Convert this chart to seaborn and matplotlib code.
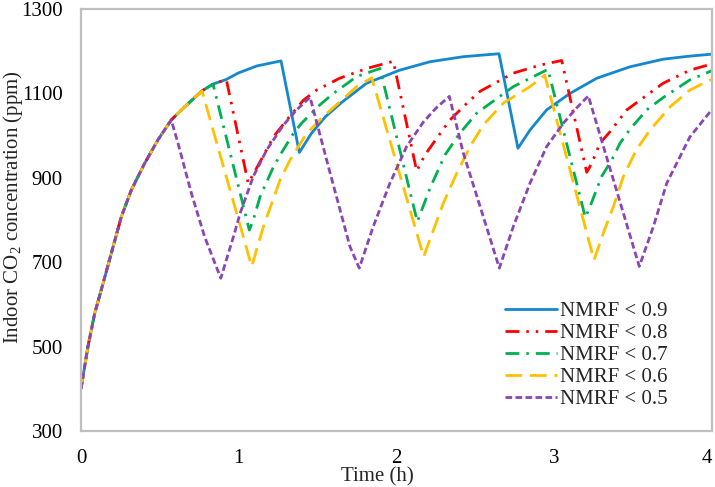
import numpy as np
import pandas as pd
import matplotlib
matplotlib.use("Agg")
import matplotlib.pyplot as plt
import seaborn as sns

# ---------------- data ----------------
# common initial rise shared by all five strategies
t_rise = [0, 0.044, 0.087, 0.14, 0.192, 0.256, 0.319, 0.403, 0.488, 0.572,
          0.657, 0.767, 0.837, 0.921, 0.995, 1.114, 1.268]
c_rise = [400, 500, 579, 650, 721, 808, 871, 934, 990, 1037,
          1068, 1106, 1122, 1133, 1148, 1165, 1177]

# NMRF < 0.9 (after the common rise up to t = 1.268)
t_09 = [1.384, 1.46, 1.55, 1.65, 1.81, 2.02, 2.212, 2.424, 2.65,
        2.77, 2.846, 2.952, 3.10, 3.27, 3.48, 3.69, 3.85, 4.0]
c_09 = [960, 1005, 1045, 1078, 1124, 1155, 1175, 1187, 1194,
        970, 1013, 1061, 1100, 1136, 1163, 1181, 1188, 1193]

# NMRF < 0.8 (after the common rise up to t = 0.921)
t_08 = [1.06, 1.135, 1.22, 1.304, 1.41, 1.494, 1.64, 1.81, 1.98,
        2.128, 2.18, 2.265, 2.339, 2.455, 2.53, 2.74, 2.91, 3.047,
        3.206, 3.237, 3.29, 3.353, 3.46, 3.69, 3.86, 4.0]
c_08 = [887, 938, 997, 1037, 1084, 1108, 1136, 1159, 1176,
        916, 954, 999, 1037, 1080, 1105, 1148, 1167, 1178,
        913, 934, 982, 1009, 1061, 1124, 1155, 1170]

# NMRF < 0.7 (after the common rise up to t = 0.837)
t_07 = [1.067, 1.092, 1.135, 1.22, 1.272, 1.346, 1.40, 1.515, 1.60, 1.748, 1.895,
        2.132, 2.212, 2.307, 2.40, 2.508, 2.74, 2.96,
        3.197, 3.227, 3.30, 3.364, 3.417, 3.48, 3.586, 3.69, 3.86, 4.0]
c_07 = [776, 800, 855, 926, 960, 1005, 1030, 1073, 1100, 1140, 1159,
        796, 875, 954, 1005, 1053, 1116, 1157,
        806, 832, 903, 942, 982, 1015, 1061, 1090, 1132, 1154]

# NMRF < 0.6 (after the common rise up to t = 0.767)
t_06 = [1.082, 1.156, 1.262, 1.325, 1.43, 1.536, 1.64, 1.748, 1.843,
        2.172, 2.234, 2.297, 2.382, 2.466, 2.55, 2.677, 2.846, 2.94,
        3.252, 3.31, 3.375, 3.438, 3.52, 3.607, 3.734, 3.86, 4.0]
c_06 = [690, 784, 895, 942, 1005, 1045, 1080, 1116, 1137,
        713, 776, 840, 911, 974, 1025, 1077, 1116, 1143,
        705, 768, 832, 903, 966, 1013, 1068, 1108, 1134]

# NMRF < 0.5 (after the common rise up to t = 0.572)
t_05 = [0.615, 0.70, 0.784, 0.886, 0.966, 1.008, 1.092, 1.177, 1.283, 1.367, 1.452,
        1.58, 1.705, 1.764, 1.852, 1.958, 2.064, 2.17, 2.25, 2.335,
        2.424, 2.53, 2.652, 2.74, 2.846, 2.952, 3.057, 3.14, 3.216,
        3.539, 3.628, 3.713, 3.797, 3.86, 4.0]
c_05 = [982, 863, 760, 662, 760, 815, 903, 966, 1025, 1061, 1091,
        910, 737, 686, 784, 887, 974, 1032, 1065, 1093,
        958, 832, 686, 784, 887, 974, 1029, 1065, 1094,
        690, 784, 887, 950, 997, 1062]

labels = ["NMRF < 0.9", "NMRF < 0.8", "NMRF < 0.7", "NMRF < 0.6", "NMRF < 0.5"]
break_idx = [17, 14, 13, 12, 10]   # how many common-rise points each series uses
series_t = [t_09, t_08, t_07, t_06, t_05]
series_c = [c_09, c_08, c_07, c_06, c_05]

colors = ["#1487CF", "#FF0000", "#00B050", "#FFC000", "#8B46B4"]
styles = ["-", (0, (5, 2.5, 0.9, 2.5, 0.9, 2.5)), (0, (5, 2.5, 0.9, 2.5)),
          (0, (6, 2.8)), (0, (2.4, 1.2))]

# ---------------- plotting ----------------
sns.set_style("white")
plt.rcParams["font.family"] = ["Liberation Serif", "DejaVu Serif"]
plt.rcParams["mathtext.fontset"] = "custom"
plt.rcParams["mathtext.rm"] = "Liberation Serif"
plt.rcParams["mathtext.it"] = "Liberation Serif:italic"

fig = plt.figure(figsize=(7.15, 4.87), dpi=100)
ax = fig.add_axes([81 / 715, 1 - 431 / 487, (712 - 81) / 715, (431 - 9) / 487])

for lab, bi, ts, cs, col, ls in zip(labels, break_idx, series_t, series_c, colors, styles):
    tt = list(t_rise[:bi]) + list(ts)
    cc = list(c_rise[:bi]) + list(cs)
    df = pd.DataFrame({"t": tt, "c": cc})
    sns.lineplot(data=df, x="t", y="c", ax=ax, color=col, linestyle=ls,
                 linewidth=2.0, label=lab, sort=False, estimator=None)

ax.set_xlim(0, 4)
ax.set_ylim(300, 1300)
ax.set_xticks([0, 1, 2, 3, 4])
ax.set_yticks([300, 500, 700, 900, 1100, 1300])

grey = "#BFBFBF"
for s in ax.spines.values():
    s.set_color(grey)
    s.set_linewidth(1.6)
ax.tick_params(axis="both", direction="in", length=5, width=1.6, color=grey,
               labelsize=15, labelcolor="black", pad=13)

xt = ax.get_xticklabels()
xt[-1].set_horizontalalignment("right")
xt[-1].set_x(4)

ax.set_xlabel("Time (h)", fontsize=15, labelpad=1)
ax.set_ylabel("Indoor CO$_2$ concentration (ppm)", fontsize=15)
ax.xaxis.set_label_coords(0.47, -0.085)
ax.yaxis.set_label_coords(-0.089, 0.531)

leg = ax.legend(loc="upper left", bbox_to_anchor=(0.672, 0.307), frameon=False,
                fontsize=15, handlelength=2.5, handletextpad=0.15,
                labelspacing=0.12, borderpad=0, borderaxespad=0)

fig.savefig("out.png", dpi=100)
